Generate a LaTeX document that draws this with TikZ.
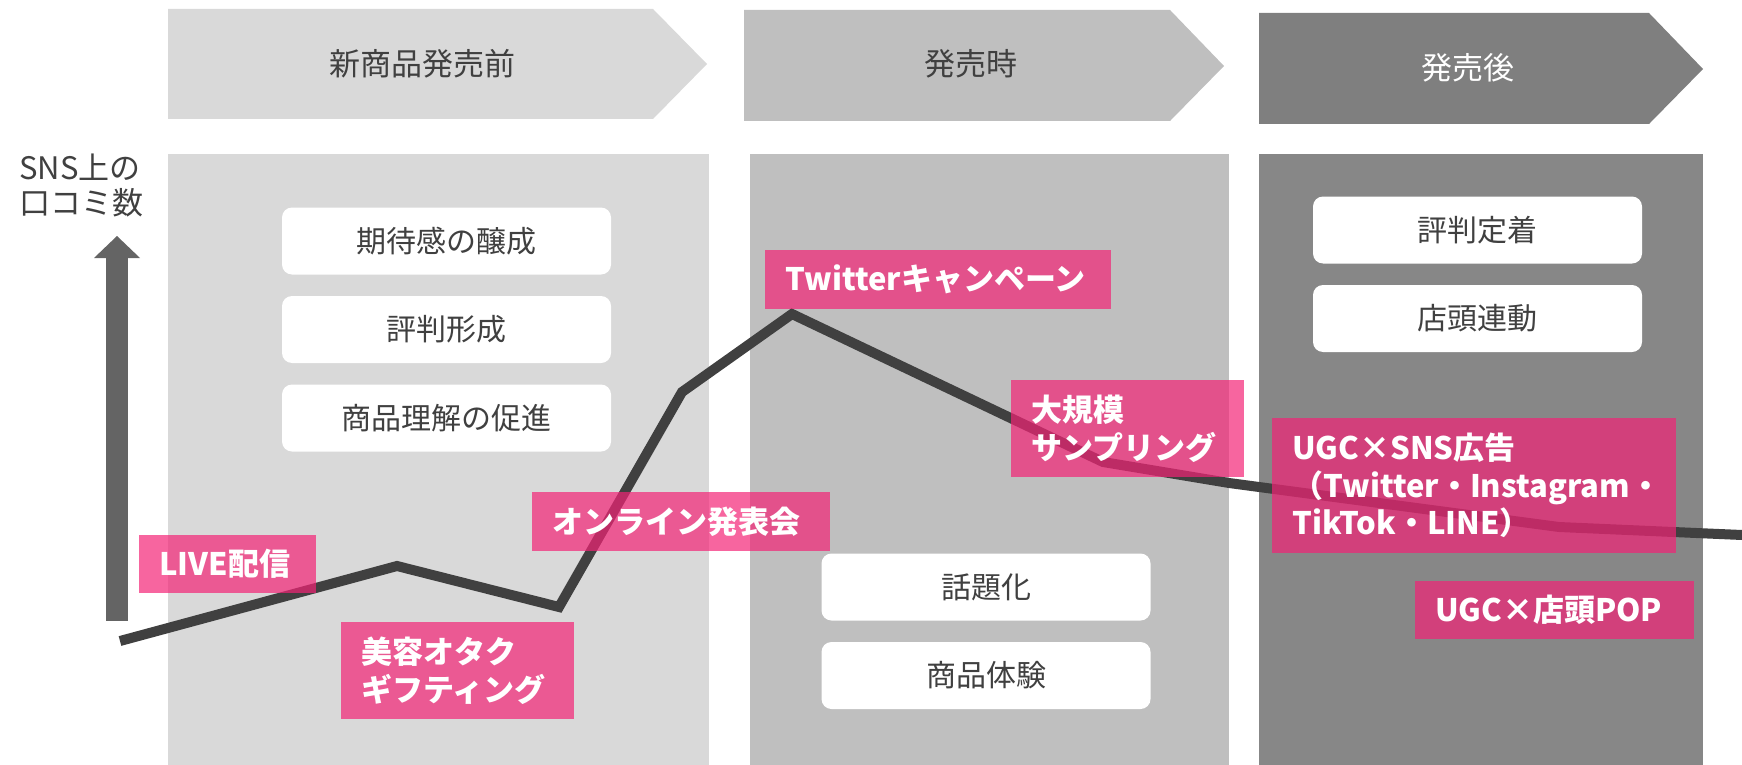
\documentclass[tikz,border=0pt]{standalone}
\usepackage{fontspec}
\setmainfont{Noto Sans CJK JP}
\definecolor{phaseA}{HTML}{D9D9D9}
\definecolor{phaseB}{HTML}{BFBFBF}
\definecolor{phaseChead}{HTML}{7F7F7F}
\definecolor{phaseCbox}{HTML}{878787}
\definecolor{txtgray}{HTML}{404040}
\definecolor{linegray}{HTML}{404040}
\definecolor{arrowgray}{HTML}{646464}
\definecolor{pinkc}{HTML}{F32376}
\tikzset{
  lbl/.style={inner sep=0pt, font=\fontsize{31}{37}\selectfont, text=txtgray},
  wbox/.style={fill=white, rounded corners=10pt, minimum width=329pt, minimum height=67pt,
    inner sep=0pt, font=\fontsize{30}{36}\selectfont, text=txtgray},
  pbox/.style={fill=pinkc, fill opacity=0.7, text opacity=1, text=white, anchor=north west,
    inner xsep=20pt, inner ysep=0pt, align=left,
    font=\bfseries\fontsize{31}{37.5}\selectfont},
  curve/.style={draw=linegray, line width=10pt, line join=miter}
}
\begin{document}
\begin{tikzpicture}[x=1pt,y=-1pt]
\useasboundingbox (0,0) rectangle (1742,765);
% chevrons
\fill[phaseA] (168,9) -- (653,9) -- (707,64) -- (653,119) -- (168,119) -- cycle;
\fill[phaseB] (744,10) -- (1170,10) -- (1224,66) -- (1170,121) -- (744,121) -- cycle;
\fill[phaseChead] (1259,13) -- (1649,13) -- (1703,69) -- (1649,124) -- (1259,124) -- cycle;
\node[lbl] (h1) at (422,64) {新商品発売前};
\node[lbl] (h2) at (971,64) {発売時};
\node[lbl, text=white] (h3) at (1468,68) {発売後};
% phase boxes
\fill[phaseA] (168,154) rectangle (709,765);
\fill[phaseB] (750,154) rectangle (1229,765);
\fill[phaseCbox] (1259,154) rectangle (1703,765);
% axis label and arrow
\node[lbl, anchor=west] (ylab1) at (19,167) {SNS上の};
\node[lbl, anchor=west] (ylab2) at (19,203) {口コミ数};
\fill[arrowgray] (106,621) rectangle (128,257);
\fill[arrowgray] (94,258) -- (140,258) -- (117,236) -- cycle;
% white boxes
\node[wbox] (b1) at (446.5,241) {期待感の醸成};
\node[wbox] (b2) at (446.5,329.5) {評判形成};
\node[wbox] (b3) at (446.5,418) {商品理解の促進};
\node[wbox] (b4) at (986,587) {話題化};
\node[wbox] (b5) at (986,675.5) {商品体験};
\node[wbox] (b6) at (1477.5,230) {評判定着};
\node[wbox] (b7) at (1477.5,318.5) {店頭連動};
% curve
\coordinate (p1) at (120,641);
\coordinate (p2) at (397,566);
\coordinate (p3) at (559,607);
\coordinate (p4) at (682,392);
\coordinate (p5) at (792,314);
\coordinate (p6) at (937,383);
\coordinate (p7) at (1103,462);
\coordinate (p8) at (1229,483);
\coordinate (p9) at (1559,527);
\coordinate (p10) at (1742,535);
\draw[curve] (p1) -- (p2) -- (p3) -- (p4) -- (p5) -- (p6) -- (p7) -- (p8) -- (p9) -- (p10);
% pink labels
\node[pbox, minimum height=58pt, text width=137pt] (live) at (139,535) {LIVE配信};
\node[pbox, minimum height=97pt, text width=193pt] (otaku) at (341,622) {美容オタク\\ギフティング};
\node[pbox, minimum height=59pt, text width=258pt] (online) at (532,492) {オンライン発表会};
\node[pbox, minimum height=59pt, text width=306pt] (twitter) at (765,250) {Twitterキャンペーン};
\node[pbox, minimum height=97pt, text width=193pt] (sampling) at (1011,380) {大規模\\サンプリング};
\node[pbox, minimum height=135pt, text width=364pt] (ugcsns) at (1272,418) {UGC×SNS広告\\（Twitter・Instagram・\\TikTok・LINE）};
\node[pbox, minimum height=58pt, text width=239pt] (ugcpop) at (1415,581) {UGC×店頭POP};
\end{tikzpicture}
\end{document}
